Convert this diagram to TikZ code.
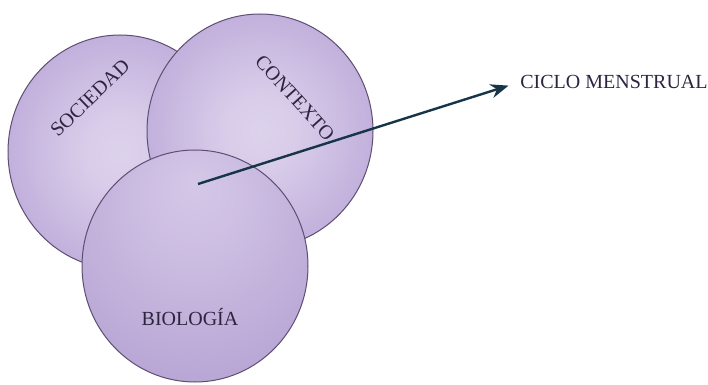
\documentclass[tikz,border=0pt]{standalone}
\usepackage{fontspec}
\setmainfont{Liberation Serif}
\usetikzlibrary{shapes.geometric,arrows.meta,positioning}
\definecolor{lilac}{HTML}{DDD2EC}
\definecolor{bubblepurple}{HTML}{A088C9}
\definecolor{bubbleline}{HTML}{5E4E72}
\definecolor{wordcolor}{HTML}{2E2440}
\definecolor{arrowcolor}{HTML}{173548}
\pgfdeclareradialshading{bubble}{\pgfpoint{0bp}{0bp}}{color(0bp)=(lilac); color(8bp)=(lilac!92!bubblepurple); color(50bp)=(bubblepurple)}
\pgfdeclareradialshading{bubblelow}{\pgfpoint{0bp}{18bp}}{color(0bp)=(lilac!85!bubblepurple); color(10bp)=(lilac!75!bubblepurple); color(70bp)=(bubblepurple!95!black)}
\tikzset{
	circlenode/.style = {ellipse, draw=bubbleline, line width=0.5pt,
		shading=bubble, inner sep=0pt, outer sep=0pt},
	word/.style       = {font=\fontsize{10}{12}\selectfont, text=wordcolor, inner sep=0pt},
	curve/.style      = {-{Stealth[length=9pt, width=7pt]}, line width=1.2pt, draw=arrowcolor},
}

\begin{document}
\begin{tikzpicture}[x=0.5pt, y=-0.5pt]
	\useasboundingbox (0,0) rectangle (708,385);
	% three overlapping spheres
	\node[circlenode, minimum width=112pt, minimum height=117pt] (soc) at (120,152) {};
	\node[circlenode, minimum width=113pt, minimum height=117pt] (ctx) at (260,131) {};
	\node[circlenode, shading=bubblelow, minimum width=113pt, minimum height=116pt] (bio) at (195,266) {};
	
	\node[word, rotate=44]  (soctext) at (90,98) {SOCIEDAD};
	\node[word, rotate=-48] (ctxtext) at (295,98) {CONTEXTO};
	\node[word]             (biotext) at (190,317) {BIOLOGÍA};
	
	\node[word, anchor=west] (ciclo) at (520,82) {CICLO MENSTRUAL};
	\coordinate (start) at (198,184);
	
	\draw[curve, shorten >=6pt] (start) -- (ciclo.west);
\end{tikzpicture}
\end{document}
